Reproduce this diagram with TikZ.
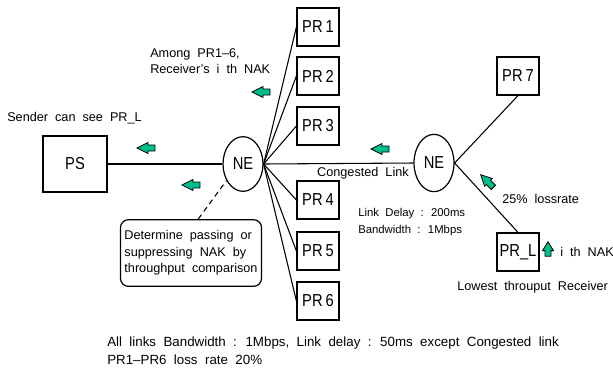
\documentclass[tikz,border=0pt]{standalone}
\usepackage{fontspec}
\setmainfont[WordSpace=2]{Liberation Sans}
\newfontfamily\boxfont[FakeStretch=0.85]{Liberation Sans}
\usetikzlibrary{shapes.geometric}
\definecolor{nakgreen}{RGB}{0,190,140}
\tikzset{
  pics/nakarrow/.style={code={
    \draw[line width=0.6pt,fill=nakgreen]
      (-9,-3) -- (-2,-3) -- (-2,-5.5) -- (9,0) -- (-2,5.5) -- (-2,3) -- (-9,3) -- cycle;
  }}
}
\begin{document}
\begin{tikzpicture}[
x=0.75pt,y=-0.75pt,
prbox/.style={
  draw,
  line width=0.9pt,
  minimum width=31.5pt,
  minimum height=28.5pt,
  inner sep=0pt,
  font=\boxfont\fontsize{13}{15}\selectfont
  },
nenode/.style={
  draw,
  ellipse,
  line width=0.9pt,
  minimum width=30pt,
  minimum height=41pt,
  inner sep=0pt,
  font=\boxfont\fontsize{13}{15}\selectfont
  },
link/.style={line width=0.8pt},
note/.style={font=\fontsize{9.5}{12.5}\selectfont,align=left,inner sep=0pt}
]
\useasboundingbox (0,0) rectangle (613,369);
% sender, network elements, receivers
\node[prbox,minimum width=48pt,minimum height=42pt] (ps) at (75,164) {PS};
\node[nenode] (neL) at (243,164) {NE};
\node[nenode,minimum height=43pt] (neR) at (434,163) {NE};
\foreach \Value/\Y in {1/27,2/76,3/126,4/200,5/251,6/301}
  \node[prbox] (pr\Value) at (318,\Y) {PR\,\Value};
\node[prbox] (pr7) at (518,76) {PR\,7};
\node[prbox] (prL) at (518,252) {PR\_L};
% links
\draw[link] (ps) -- (neL);
\foreach \Value in {1,...,6}
  \draw[link] (neL.east) -- (pr\Value.west);
\draw[link] (neL.east) -- (neR.west);
\draw[link] (neR.east) -- (pr7.south);
\draw[link] (neR.east) -- (prL.north);
% decision box
\node[draw,rounded corners=6pt,line width=0.9pt,minimum width=98pt,minimum height=50pt,
  note,inner sep=3pt] (decide) at (191,253)
  {Determine passing or\\suppressing NAK by\\throughput comparison};
\draw[link,dash pattern=on 4pt off 3pt] (decide.78) -- (neL.225);
% NAK arrows
\pic[rotate=180] at (146,148) {nakarrow};
\pic[rotate=180] at (191,185) {nakarrow};
\pic[rotate=180] at (261,92) {nakarrow};
\pic[rotate=180] at (380,149) {nakarrow};
\pic[rotate=135] at (487,181) {nakarrow};
\pic[rotate=90,xscale=0.8] at (548,249) {nakarrow};
% labels
\node[note,anchor=west] (seePRL) at (7,118) {Sender can see PR\_L};
\node[note,anchor=west] (among) at (150,61) {Among PR1--6,\\Receiver’s i th NAK};
\node[note,anchor=east] (congested) at (409,173) {Congested Link};
\node[note,anchor=west,font=\fontsize{8.5}{12.5}\selectfont] (delay) at (358,222)
  {Link Delay : 200ms\\Bandwidth : 1Mbps};
\node[note,anchor=west] (lossrate) at (502,199) {25\% lossrate};
\node[note,anchor=west] (ithNAK) at (560,252) {i th NAK};
\node[note,anchor=west] (lowest) at (457,287) {Lowest throuput Receiver};
\node[note,anchor=west,font=\fontsize{10}{13.5}\selectfont] (allLinks) at (107,351)
  {All links Bandwidth : 1Mbps, Link delay : 50ms except Congested link\\PR1--PR6 loss rate 20\%};
\end{tikzpicture}
\end{document}
